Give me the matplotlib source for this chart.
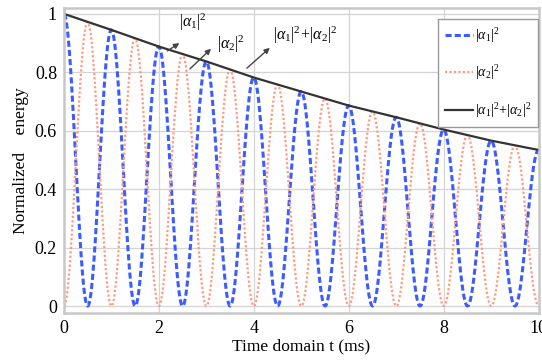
import numpy as np
import matplotlib
matplotlib.use("Agg")
import matplotlib.pyplot as plt

plt.rcParams['font.family'] = 'serif'
plt.rcParams['font.serif'] = ['Liberation Serif', 'DejaVu Serif']
plt.rcParams['mathtext.fontset'] = 'custom'
plt.rcParams['mathtext.rm'] = 'Liberation Serif'
plt.rcParams['mathtext.it'] = 'Liberation Serif:italic'

# envelope |a1|^2+|a2|^2 read at integer times (ms)
t_env = [0, 1, 2, 3, 4, 5, 6, 7, 8, 9, 10]
e_env = [1.0, 0.945, 0.888, 0.837, 0.782, 0.734, 0.686, 0.646, 0.604, 0.566, 0.534]
period = 1.0   # ms, blue peaks at integers, orange peaks at half-integers

xticks = [0, 2, 4, 6, 8, 10]
yticks = [0, 0.2, 0.4, 0.6, 0.8, 1]
xticklabels = ['0', '2', '4', '6', '8', '10']
yticklabels = ['0', '0.2', '0.4', '0.6', '0.8', '1']

lab1 = r'$|\alpha_1|^2$'
lab2 = r'$|\alpha_2|^2$'
lab3 = r'$|\alpha_1|^2\!+\!|\alpha_2|^2$'

t = np.linspace(0, 10, 2001)
env = np.interp(t, t_env, e_env)
a1 = env * np.cos(np.pi * t / period) ** 2
a2 = env * np.sin(np.pi * t / period) ** 2

fig = plt.figure(figsize=(5.42, 3.64), dpi=100)
ax = fig.add_axes([0.118, 0.140, 0.876, 0.838])

ax.plot(t, a1, color='#3d5cff', lw=2.2, ls=(0, (2.0, 1.0)), label=lab1)
ax.plot(t, a2, color='#ff9a80', lw=1.6, ls=(0, (1, 1)), label=lab2)
ax.plot(t_env, e_env, color='#333333', lw=1.6, label=lab3)

ax.set_xlim(0, 10)
ax.set_ylim(-0.024, 1.02)
ax.set_xticks(xticks)
ax.set_xticklabels(xticklabels, fontfamily='Liberation Serif', fontsize=13)
ax.set_yticks(yticks)
ax.set_yticklabels(yticklabels, fontfamily='Liberation Serif', fontsize=13)
ax.tick_params(length=0, pad=5)
ax.grid(True, color='#d4d4d4', lw=0.9)
for s in ax.spines.values():
    s.set_color('#c8c8c8')
    s.set_linewidth(1.8)

ax.set_xlabel('Time domain t (ms)', fontsize=12.5, labelpad=1)
ax.set_ylabel('Normalized    energy', fontsize=12.5, labelpad=4)

arrow = dict(arrowstyle='-|>', color='#444444', lw=1.0, mutation_scale=8)
ax.annotate('', xy=(2.48, 0.905), xytext=(2.13, 0.868), arrowprops=arrow)
ax.annotate('', xy=(3.14, 0.887), xytext=(2.61, 0.805), arrowprops=arrow)
ax.annotate('', xy=(4.38, 0.890), xytext=(3.81, 0.808), arrowprops=arrow)
ax.text(2.42, 0.97, lab1, fontsize=11.5, va='center', ha='left')
ax.text(3.22, 0.894, lab2, fontsize=11.5, va='center', ha='left')
ax.text(4.40, 0.925, lab3, fontsize=11.5, va='center', ha='left')

leg = ax.legend(loc='upper right', fontsize=10, fancybox=False,
                edgecolor='#999999', framealpha=1, handlelength=2.0,
                labelspacing=1.35, borderpad=0.5, handletextpad=0.1,
                borderaxespad=0, bbox_to_anchor=(0.998, 0.965))
leg.get_frame().set_linewidth(1.0)

fig.savefig('out.png', dpi=100)
